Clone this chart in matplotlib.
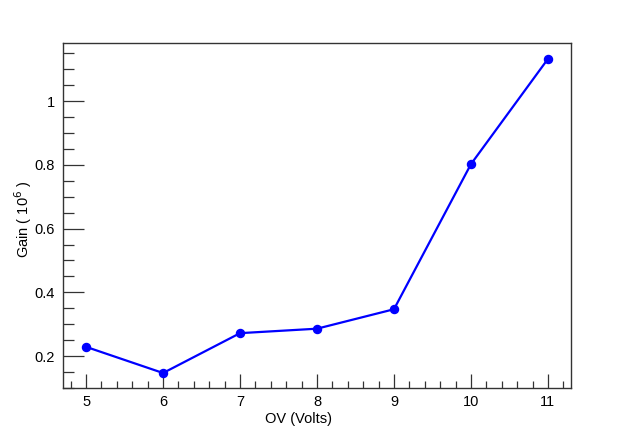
import matplotlib
matplotlib.use("Agg")
import matplotlib.pyplot as plt
from matplotlib.ticker import MultipleLocator

plt.rcParams['font.family'] = ['Liberation Sans', 'DejaVu Sans']

# overvoltage (V) and gain (x 10^6)
ov = [5, 6, 7, 8, 9, 10, 11]
gain = [0.229, 0.147, 0.272, 0.286, 0.347, 0.802, 1.132]

fig = plt.figure(figsize=(6.34, 4.32), dpi=100)
ax = fig.add_axes([63 / 634, 44 / 432, 508 / 634, 345 / 432])

ax.plot(ov, gain, color='#0000ff', lw=1.6, marker='o', ms=5.8, mec='#0000ff', mfc='#0000ff')

ax.set_xlim(4.7, 11.3)
ax.set_ylim(0.1, 1.182)

ax.xaxis.set_major_locator(MultipleLocator(1))
ax.xaxis.set_minor_locator(MultipleLocator(0.2))
ax.yaxis.set_major_locator(MultipleLocator(0.2))
ax.yaxis.set_minor_locator(MultipleLocator(0.05))

ax.tick_params(which='both', direction='in', top=False, right=False, labelsize=10.5, width=0.9, color='#333333')
ax.tick_params(which='major', length=10)
ax.tick_params(which='minor', length=5)
ax.tick_params(axis='x', pad=5)
ax.tick_params(axis='y', pad=6)
ax.yaxis.set_tick_params(which='major', length=15)
ax.yaxis.set_tick_params(which='minor', length=8)

ax.set_yticks([0.2, 0.4, 0.6, 0.8, 1.0])
ax.set_yticklabels(['0.2', '0.4', '0.6', '0.8', '1'])

for s in ax.spines.values():
    s.set_linewidth(1.0)
    s.set_color('#333333')

ax.set_xlabel('OV (Volts)', fontsize=10.5)
ax.xaxis.set_label_coords(0.4626, -0.07)
ax.set_ylabel('Gain ( 10$^{6}$ )', fontsize=10.5)
ax.yaxis.set_label_coords(-0.058, 0.49)

fig.savefig('out.png', dpi=100)
